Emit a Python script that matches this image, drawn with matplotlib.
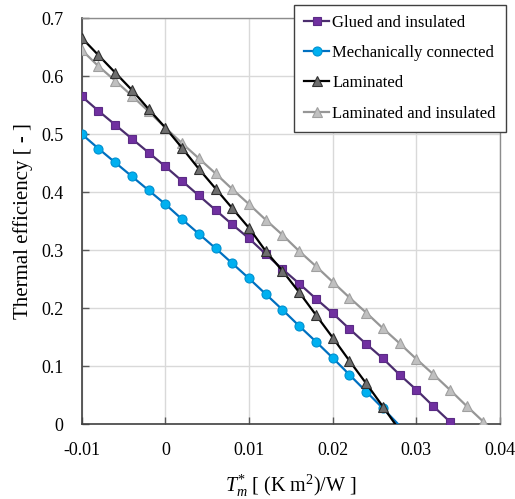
import numpy as np
import matplotlib
matplotlib.use('Agg')
import matplotlib.pyplot as plt

plt.rcParams['font.family'] = ['Liberation Serif', 'DejaVu Serif']
plt.rcParams['mathtext.fontset'] = 'custom'
plt.rcParams['mathtext.rm'] = 'Liberation Serif'
plt.rcParams['mathtext.it'] = 'Liberation Serif:italic'

# reduced temperature T*_m, one reading every 0.002 (K m2)/W
tm_glued = [-0.010, -0.008, -0.006, -0.004, -0.002, 0.000, 0.002, 0.004, 0.006, 0.008, 0.010, 0.012,
            0.014, 0.016, 0.018, 0.020, 0.022, 0.024, 0.026, 0.028, 0.030, 0.032, 0.034]
eta_glued = [0.565, 0.540, 0.516, 0.492, 0.468, 0.444, 0.419, 0.394, 0.369, 0.344, 0.320, 0.293,
             0.267, 0.242, 0.216, 0.191, 0.164, 0.138, 0.113, 0.085, 0.059, 0.031, 0.004]

tm_mech = [-0.010, -0.008, -0.006, -0.004, -0.002, 0.000, 0.002, 0.004, 0.006, 0.008, 0.010, 0.012,
           0.014, 0.016, 0.018, 0.020, 0.022, 0.024, 0.026, 0.028]
eta_mech = [0.500, 0.475, 0.451, 0.427, 0.403, 0.379, 0.353, 0.328, 0.303, 0.277, 0.251, 0.224,
            0.197, 0.169, 0.142, 0.114, 0.085, 0.056, 0.027, -0.003]

tm_lam = [-0.010, -0.008, -0.006, -0.004, -0.002, 0.000, 0.002, 0.004, 0.006, 0.008, 0.010, 0.012,
          0.014, 0.016, 0.018, 0.020, 0.022, 0.024, 0.026, 0.028]
eta_lam = [0.666, 0.636, 0.606, 0.576, 0.543, 0.511, 0.476, 0.440, 0.406, 0.372, 0.338, 0.298,
           0.264, 0.227, 0.188, 0.149, 0.109, 0.070, 0.030, -0.011]

tm_lam_ins = [-0.010, -0.008, -0.006, -0.004, -0.002, 0.000, 0.002, 0.004, 0.006, 0.008, 0.010, 0.012,
              0.014, 0.016, 0.018, 0.020, 0.022, 0.024, 0.026, 0.028, 0.030, 0.032, 0.034, 0.036, 0.038]
eta_lam_ins = [0.645, 0.617, 0.592, 0.566, 0.539, 0.511, 0.484, 0.458, 0.432, 0.405, 0.379, 0.352,
               0.326, 0.298, 0.272, 0.245, 0.218, 0.192, 0.165, 0.139, 0.112, 0.086, 0.059, 0.031, 0.004]

fig = plt.figure(figsize=(5.15, 4.99), dpi=100)
ax = fig.add_axes([0.1585, 0.1503, 0.8125, 0.8136])

# last reading of the steep curves lies just below zero: keep the line, drop the marker
ax.plot(tm_glued, eta_glued, color='#4B2D6E', lw=1.6, marker='s', ms=5.5,
        mfc='#7030A0', mec='#5B2B85', mew=0.8, label='Glued and insulated', zorder=3)
ax.plot(tm_mech, eta_mech, color='#0070C0', lw=1.6, marker='o', ms=6.5,
        mfc='#00B0F0', mec='#0090D0', mew=0.8, markevery=list(range(len(tm_mech) - 1)),
        label='Mechanically connected', zorder=3)
ax.plot(tm_lam, eta_lam, color='black', lw=1.6, marker='^', ms=6.5,
        mfc='#6E6E6E', mec='#303030', mew=0.8, markevery=list(range(len(tm_lam) - 1)),
        label='Laminated', zorder=4)
ax.plot(tm_lam_ins, eta_lam_ins, color='#969696', lw=1.6, marker='^', ms=6.5,
        mfc='#C0C0C0', mec='#A0A0A0', mew=0.8, label='Laminated and insulated', zorder=3)

ax.set_xlim(-0.01, 0.04)
ax.set_ylim(0, 0.7)
ax.set_xticks([-0.01, 0, 0.01, 0.02, 0.03, 0.04])
ax.set_xticklabels(['-0.01', '0', '0.01', '0.02', '0.03', '0.04'])
ax.set_yticks([0, 0.1, 0.2, 0.3, 0.4, 0.5, 0.6, 0.7])
ax.set_yticklabels(['0', '0.1', '0.2', '0.3', '0.4', '0.5', '0.6', '0.7'])
ax.grid(True, color='#D9D9D9', lw=1.0, zorder=0)
ax.set_axisbelow(True)
ax.tick_params(direction='in', length=5, width=1.0, color='#595959', labelsize=13)
ax.tick_params(axis='x', pad=13)
ax.tick_params(axis='y', pad=13)
for side in ['left', 'bottom']:
    ax.spines[side].set_color('#404040')
    ax.spines[side].set_linewidth(1.2)
for side in ['top', 'right']:
    ax.spines[side].set_color('#8C8C8C')
    ax.spines[side].set_linewidth(1.0)

ax.set_xlabel(r'$T^{*}_{m}$ [ (K m$^{2}$)/W ]', fontsize=14.5, labelpad=10)
ax.set_ylabel('Thermal efficiency [ - ]', fontsize=15, labelpad=6)

leg = fig.legend(loc='upper left', bbox_to_anchor=(294 / 515, 1 - 5 / 499), fontsize=12,
                 frameon=True, fancybox=False, edgecolor='#404040', framealpha=1,
                 handlelength=1.5, handletextpad=0.2, labelspacing=0.85, borderpad=0.6,
                 borderaxespad=0)
leg.get_frame().set_linewidth(1.0)

fig.savefig('out.png', dpi=100)
